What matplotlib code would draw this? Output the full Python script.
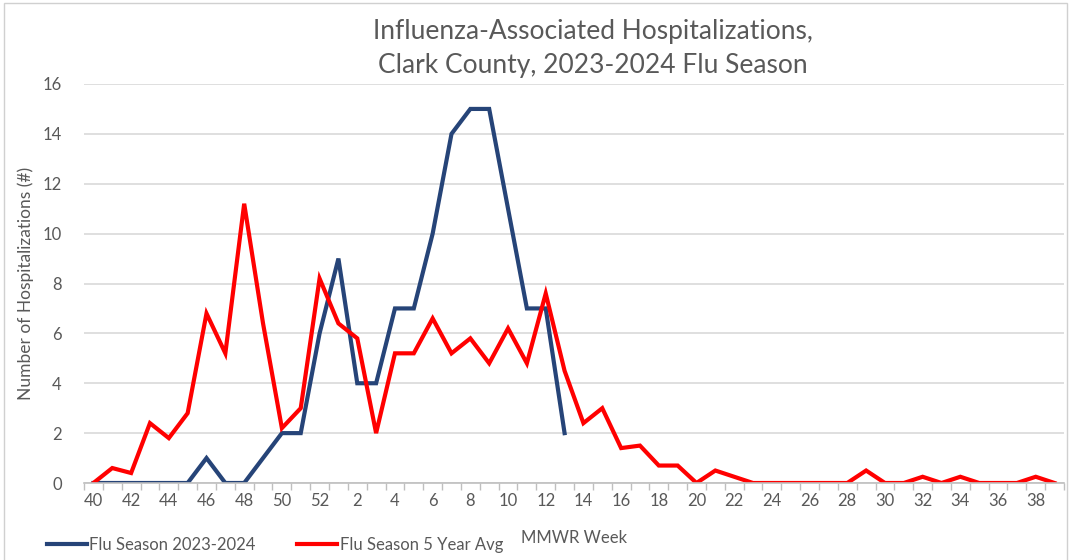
import numpy as np
import matplotlib
matplotlib.use('Agg')
import matplotlib.pyplot as plt
from matplotlib.patches import Rectangle

plt.rcParams['font.family'] = ['Lato', 'DejaVu Sans']

weeks = list(range(40, 53)) + list(range(1, 40))
week_labels = [str(w) if w % 2 == 0 else '' for w in weeks]

season_2324 = [0, 0, 0, 0, 0, 0, 1, 0, 0, 1, 2, 2, 6,
               9, 4, 4, 7, 7, 10, 14, 15, 15, 11, 7, 7, 2]

avg_5yr = [0, 0.6, 0.4, 2.4, 1.8, 2.8, 6.8, 5.2, 11.2, 6.4, 2.2, 3.0, 8.2,
           6.4, 5.8, 2.0, 5.2, 5.2, 6.6, 5.2, 5.8, 4.8, 6.2, 4.8, 7.6, 4.5,
           2.4, 3.0, 1.4, 1.5, 0.7, 0.7, 0, 0.5, 0.25, 0, 0, 0, 0, 0,
           0, 0.5, 0, 0, 0.25, 0, 0.25, 0, 0, 0, 0.25, 0]

grey = '#595959'
blue = '#264478'
red = '#FF0000'

fig = plt.figure(figsize=(10.7, 5.6), dpi=100)
ax = fig.add_axes([84/1070, 1 - 483/560, (1064-84)/1070, (483-84)/560])

x = np.arange(len(weeks))
ax.plot(x[:len(season_2324)], season_2324, color=blue, lw=3,
        solid_joinstyle='miter', label='Flu Season 2023-2024')
ax.plot(x, avg_5yr, color=red, lw=3, solid_joinstyle='miter',
        label='Flu Season 5 Year Avg')

ax.set_xlim(-0.5, len(weeks) - 0.5)
ax.set_ylim(0, 16)
ax.set_yticks(range(0, 17, 2))
ax.grid(axis='y', color='#D9D9D9', lw=1.2)
ax.set_axisbelow(True)

ax.set_xticks(x)
ax.set_xticklabels(week_labels)
ax.set_xticks(np.arange(-0.5, len(weeks), 1), minor=True)
ax.tick_params(axis='x', which='major', length=0, pad=7, labelsize=12, labelcolor=grey)
ax.tick_params(axis='x', which='minor', length=5, color='#BFBFBF', width=1)
ax.tick_params(axis='y', length=0, pad=16, labelsize=12, labelcolor=grey)

for s in ['top', 'right', 'left']:
    ax.spines[s].set_visible(False)
ax.spines['bottom'].set_color('#BFBFBF')
ax.spines['bottom'].set_linewidth(1.2)

ax.set_ylabel('Number of Hospitalizations (#)', fontsize=12.5, color=grey, labelpad=6)
fig.text(574/1070, 1 - 538/560, 'MMWR Week', fontsize=12, color=grey,
         ha='center', va='center')

fig.text(593/1070, 1 - 48/560,
         'Influenza-Associated Hospitalizations,\nClark County, 2023-2024 Flu Season',
         fontsize=19, color=grey, ha='center', va='center', linespacing=1.45)

fig.legend(loc='center left', bbox_to_anchor=(40/1070, 1 - 545/560), ncol=2,
           frameon=False, fontsize=12, labelcolor=grey, handlelength=2.4,
           handletextpad=0.15, columnspacing=2.5, borderaxespad=0)

fig.patches.append(Rectangle((4/1070, -0.01), 1063/1070, 1 - 3/560 + 0.01,
                             transform=fig.transFigure, fill=False,
                             edgecolor='#D0D0D0', lw=1))

fig.savefig('out.png', dpi=100)
